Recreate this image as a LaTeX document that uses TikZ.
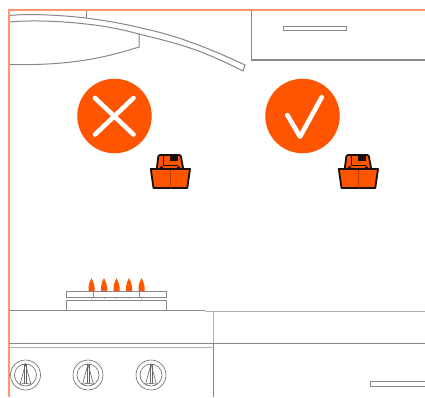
\documentclass[tikz,border=0pt]{standalone}
\usetikzlibrary{positioning, calc}
\definecolor{flameorange}{RGB}{255,84,0}
\definecolor{frameorange}{RGB}{255,150,110}
\definecolor{linegray}{RGB}{135,135,140}
\definecolor{lightgray}{RGB}{175,175,175}
\definecolor{potdark}{RGB}{25,15,10}
\tikzset{
    framelin/.style={draw=frameorange, line width=1.2pt},
    hoodlin/.style={draw=linegray, line width=1pt},
    cablin/.style={draw=linegray, line width=1.8pt},
    thinlin/.style={draw=lightgray, line width=1.3pt},
    burnlin/.style={draw=linegray, line width=1pt, fill=white},
    knoblin/.style={draw=gray!80!black, line width=0.6pt},
    badge/.style={circle, fill=flameorange, minimum size=74.5pt, inner sep=0pt},
    badgemark/.style={draw=white, line width=4.6pt, line cap=round, line join=round},
    potbody/.style={draw=potdark, fill=flameorange, line width=1.8pt, line join=round},
    flame/.style={fill=flameorange, draw=none}
}
\begin{document}
\begin{tikzpicture}[x=1pt, y=-1pt]
        \useasboundingbox (0,0) rectangle (425,397);
        \fill[white] (0,0) rectangle (425,397);
        \draw[hoodlin] (9,15.5) .. controls (30,13.5) and (60,15) .. (86,18) .. controls (105,20.5) and (125,24) .. (137,27) .. controls (155,31) and (175,36) .. (190,42) .. controls (210,49) and (228,57) .. (245,65) -- (243,71) .. controls (225,62) and (208,54) .. (190,48) .. controls (172,42) and (155,38) .. (139,34) .. controls (120,29) and (105,26) .. (86,24) .. controls (60,21) and (30,20) .. (9,22);
        \draw[hoodlin, line width=0.7pt] (86,10) -- (86,18);
        \draw[hoodlin] (139,34) -- (139,47) .. controls (110,56) and (75,66) .. (9,64.5);
        \draw[framelin] (9,397) -- (9,10) -- (425,10);
        \draw[cablin] (251.5,10) -- (251.5,60) -- (425,60);
        \draw[burnlin] (283.5,26) rectangle (346.5,30.5);
        \node[badge] (cross) at (114.5,116) {};
        \draw[badgemark] ($(cross)+(-19.5,-18)$) -- ($(cross)+(19,18.5)$);
        \draw[badgemark] ($(cross)+(-19.5,18.5)$) -- ($(cross)+(19,-18)$);
        \node[badge] (tick) at (302.5,116) {};
        \draw[badgemark] ($(tick)+(-15.2,-1)$) -- ($(tick)+(-2.5,20.7)$) -- ($(tick)+(19.2,-18.7)$);
        \foreach \dx/\name in {0/wrong, 188/right}{
          \begin{scope}[xshift=\dx pt]
            \draw[potbody] (156.7,169) -- (158.3,156.5) .. controls (158.5,155.2) and (159.5,155) .. (160.5,155) -- (179,155) .. controls (180.5,155) and (181,156) .. (181,157) -- (183.3,169) -- cycle;
            \fill[potdark] (170,155.5) rectangle (178,160.5);
            \draw[potdark, line width=0.7pt] (163,156) -- (163,165) -- (178,165);
            \draw[potbody] (150.8,169) -- (190,169) -- (187.3,188) -- (153.5,188) -- cycle;
            \draw[flameorange!70!black, line width=0.3pt] (170.5,169.5) -- (170.5,187.5);
            \fill[potdark] (161.5,167.5) circle (1.6pt) (178.5,167.5) circle (1.6pt);
          \end{scope}
        }
        \draw[burnlin] (66.3,291.3) rectangle (166.7,297.5);
        \draw[hoodlin] (93,291.3) -- (93,297.5) (139.5,291.3) -- (139.5,297.5);
        \draw[burnlin] (66.3,300.8) rectangle (166.7,310);
        \foreach \fx in {91.5,104,116.5,129,141.5}{
          \fill[flame] (\fx,278) .. controls (\fx+1,281) and (\fx+3,283.5) .. (\fx+3,286.5) -- (\fx+3,291) -- (\fx-3,291) -- (\fx-3,286.5) .. controls (\fx-3,283.5) and (\fx-1,281) .. (\fx,278) -- cycle;
          \fill[flameorange!60] (\fx-0.5,298) rectangle (\fx+0.5,299.2);
        }
        \draw[cablin] (9,310.5) -- (205,310.5);
        \draw[thinlin] (205,311.5) -- (425,311.5);
        \draw[thinlin] (213.5,311) -- (213.5,344);
        \draw[cablin] (213.5,344) -- (213.5,397);
        \draw[cablin] (9,343.5) -- (425,343.5);
        \draw[thinlin] (9,347.5) -- (213.5,347.5);
        \draw[burnlin] (425.5,381.5) -- (370,381.5) -- (370,386) -- (425.5,386);
        \foreach \kx/\kname in {25.5/one, 88/two, 151/three}{
          \coordinate (knob\kname) at (\kx,375);
          \draw[knoblin] (knob\kname) circle (15);
          \draw[knoblin] (knob\kname) circle (11);
          \draw[knoblin] ($(knob\kname)+(0,-11)$) -- ($(knob\kname)+(-5.5,9.5)$) .. controls ($(knob\kname)+(-2,8)$) and ($(knob\kname)+(2,8)$) .. ($(knob\kname)+(5.5,9.5)$) -- cycle;
          \draw[knoblin] ($(knob\kname)+(-1,-11)$) -- ($(knob\kname)+(-1,7.5)$) ($(knob\kname)+(1,-11)$) -- ($(knob\kname)+(1,7.5)$);
        }
        \end{tikzpicture}
\end{document}
